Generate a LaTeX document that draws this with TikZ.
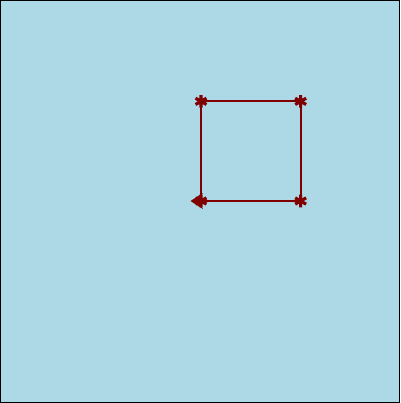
\documentclass[tikz,border=0pt]{standalone}
\usepackage{tikz}
\usetikzlibrary{arrows.meta, plotmarks}
\usepackage{xcolor}
\definecolor{paleblue}{HTML}{ADD8E6}
\definecolor{maroonred}{HTML}{800000}

\begin{document}
\begin{tikzpicture}
    \tikzset{
        frame/.style={draw=black, fill=paleblue, line width=0.8pt},
        squarepath/.style={draw=maroonred, line width=1.3pt},
        tipline/.style={draw=maroonred, line width=1.3pt, {Stealth[length=7pt,width=9pt]}-, shorten <=-6pt},
        cornermark/.style={mark=asterisk, mark size=3.6pt, mark options={maroonred, line width=1.8pt}}
    }
    % background and frame
    \draw[frame] (0,0) rectangle (8,8.06);
    % corners of the square
    \coordinate (sw) at (4.02,4.04);
    \coordinate (se) at (6.02,4.04);
    \coordinate (ne) at (6.02,6.04);
    \coordinate (nw) at (4.02,6.04);
    \coordinate (tail) at (4.6,4.04);
    \draw[squarepath] (sw) -- (se) -- (ne) -- (nw) -- (sw);
    \draw[tipline] (sw) -- (tail);
    \draw[maroonred] plot[only marks, cornermark] coordinates {(4.02,4.04) (6.02,4.04) (6.02,6.04) (4.02,6.04)};
\end{tikzpicture}
\end{document}
